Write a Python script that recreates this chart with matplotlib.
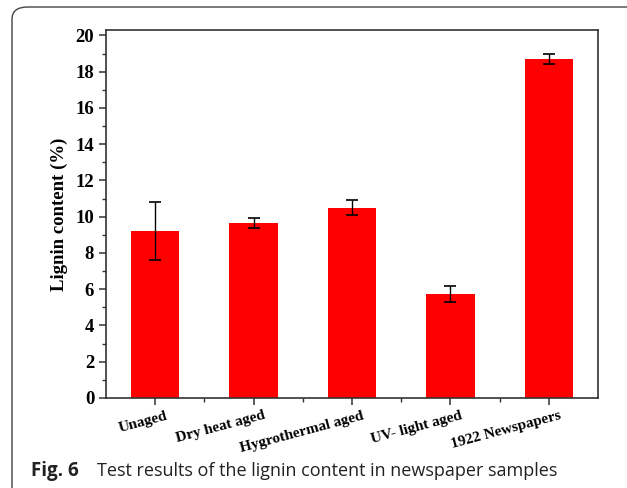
import matplotlib.pyplot as plt
import matplotlib.transforms as mtransforms
from matplotlib.patches import FancyBboxPatch
from matplotlib.ticker import MultipleLocator, FixedLocator

# data
samples = ['Unaged', 'Dry heat aged', 'Hygrothermal aged', 'UV- light aged', '1922 Newspapers']
lignin = [9.2, 9.65, 10.5, 5.75, 18.7]
lignin_err = [1.6, 0.27, 0.4, 0.45, 0.3]

fig = plt.figure(figsize=(6.27, 4.88), dpi=100)

# outer frame of the figure panel
frame = FancyBboxPatch((12 / 627, -0.2), 1.2, 1.2 - 7 / 488,
                       boxstyle='round,pad=0,rounding_size=0.025',
                       transform=fig.transFigure, fill=False,
                       edgecolor='#444444', linewidth=1.0)
fig.patches.append(frame)

ax = fig.add_axes([106 / 627, 90 / 488, 492 / 627, 368 / 488])
x = list(range(len(samples)))
ax.bar(x, lignin, width=0.49, color='#ff0000', zorder=2)
ax.errorbar(x, lignin, yerr=lignin_err, fmt='none', ecolor='black',
            elinewidth=1.0, capsize=4, capthick=1.2, zorder=3)

ax.set_xlim(-0.5, 4.5)
ax.set_ylim(0, 20.3)
ax.yaxis.set_major_locator(MultipleLocator(2))
ax.yaxis.set_minor_locator(MultipleLocator(1))
ax.xaxis.set_minor_locator(FixedLocator([0.5, 1.5, 2.5, 3.5]))
ax.set_xticks(x)
ax.set_xticklabels(samples, rotation=15, ha='right', rotation_mode='anchor',
                   fontfamily='Liberation Serif', fontweight='bold', fontsize=11)
ax.tick_params(axis='x', which='major', pad=3)
ax.tick_params(which='major', direction='out', length=5, width=1.1, color='#333333')
ax.tick_params(which='minor', direction='out', length=3, width=1.0, color='#333333')
ax.tick_params(right=False, top=False)
for lab in ax.get_yticklabels():
    lab.set_fontfamily('Liberation Serif')
    lab.set_fontweight('bold')
    lab.set_fontsize(13.5)
ax.set_ylabel('Lignin content (%)', fontfamily='Liberation Serif',
              fontweight='bold', fontsize=13.5, labelpad=5)
for s in ax.spines.values():
    s.set_linewidth(1.2)
    s.set_color('#333333')

# shift x labels a little to the right of the ticks
offset = mtransforms.ScaledTranslation(10 / 100, 0, fig.dpi_scale_trans)
for lab in ax.get_xticklabels():
    lab.set_transform(lab.get_transform() + offset)

# caption
fig.text(31 / 627, 1 - 476 / 488, 'Fig. 6', fontfamily='Open Sans',
         fontweight='bold', fontsize=13.5, color='#222222')
fig.text(97 / 627, 1 - 476 / 488, 'Test results of the lignin content in newspaper samples',
         fontfamily='Open Sans', fontsize=13, color='#222222')

fig.savefig('out.png', dpi=100)
